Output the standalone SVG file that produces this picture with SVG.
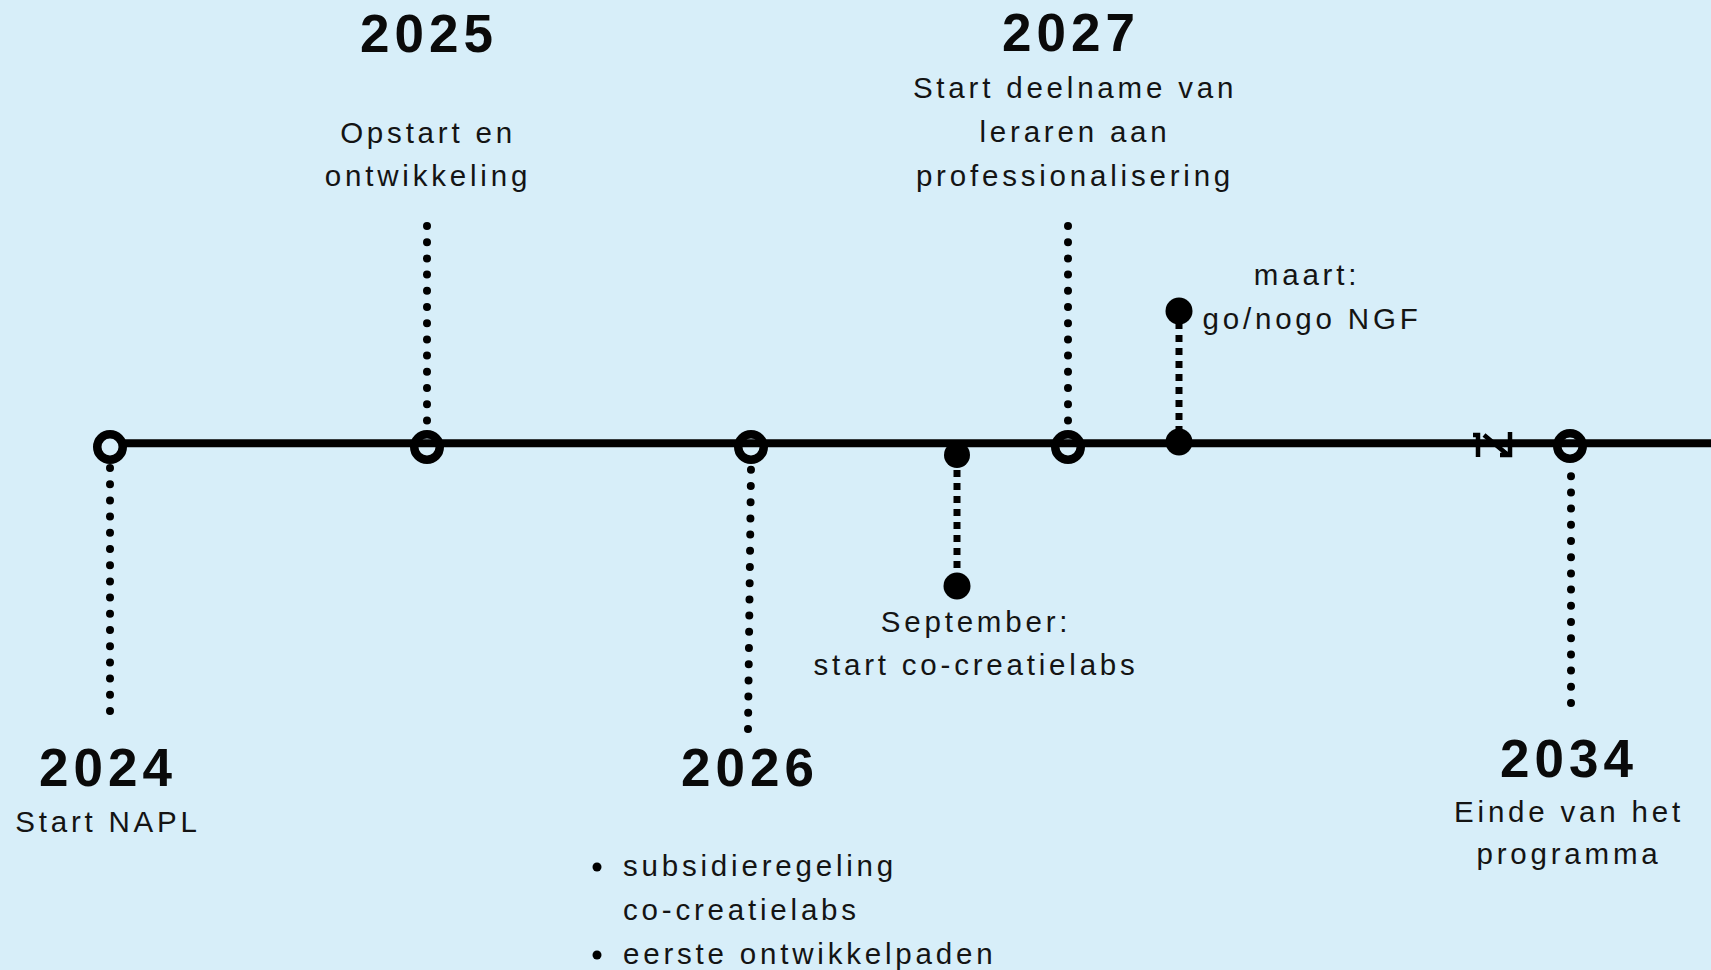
<svg xmlns="http://www.w3.org/2000/svg" width="1711" height="970" viewBox="0 0 1711 970">
<style>
.year{font-family:"Liberation Sans",Arial,sans-serif;font-weight:bold;font-size:53px;letter-spacing:5px;fill:#0a0a0a;text-anchor:middle}
.lbl{font-family:"Liberation Sans",Arial,sans-serif;font-size:29.5px;letter-spacing:3.8px;fill:#141414;text-anchor:middle}
.lft{text-anchor:start}
.dots{stroke:#000;stroke-width:8;stroke-linecap:round;stroke-dasharray:0 16.2;fill:none}
.sq{stroke:#000;stroke-width:7;stroke-dasharray:7 6;fill:none}
.ring{fill:#d7eef9;stroke:#000;stroke-width:8.5}
.dot{fill:#000}
</style>
<rect width="1711" height="970" fill="#d7eef9"/>
<g id="connectors">
  <line class="dots" x1="110" y1="711" x2="110" y2="467"/>
  <line class="dots" x1="427" y1="226" x2="427" y2="430"/>
  <line class="dots" x1="748" y1="729" x2="751" y2="467"/>
  <line class="sq" x1="957" y1="470" x2="957" y2="575"/>
  <line class="dots" x1="1068" y1="226" x2="1068" y2="430"/>
  <line class="sq" x1="1179" y1="322" x2="1179" y2="432"/>
  <line class="dots" x1="1571" y1="703" x2="1571" y2="467"/>
</g>
<g id="n2024">
  <circle class="ring" cx="110" cy="447" r="12.75"/>
  <text class="year" x="108" y="786">2024</text>
  <text class="lbl" x="108" y="832">Start NAPL</text>
</g>
<g id="n2025">
  <circle class="ring" cx="427" cy="447" r="12.75"/>
  <text class="year" x="429" y="52">2025</text>
  <text class="lbl" x="428" y="143">Opstart en</text>
  <text class="lbl" x="428" y="186">ontwikkeling</text>
</g>
<g id="n2026">
  <circle class="ring" cx="751" cy="447" r="12.75"/>
  <text class="year" x="750" y="786">2026</text>
  <circle class="dot" cx="597" cy="867" r="4.5"/>
  <text class="lbl lft" x="623" y="876">subsidieregeling</text>
  <text class="lbl lft" x="623" y="920">co-creatielabs</text>
  <circle class="dot" cx="597" cy="955" r="4.5"/>
  <text class="lbl lft" x="623" y="964">eerste ontwikkelpaden</text>
</g>
<g id="nSeptember">
  <circle class="dot" cx="957" cy="455" r="13"/>
  <circle class="dot" cx="957" cy="586" r="13.5"/>
  <text class="lbl" x="976" y="632">September:</text>
  <text class="lbl" x="976" y="675">start co-creatielabs</text>
</g>
<g id="n2027">
  <circle class="ring" cx="1068" cy="447" r="12.75"/>
  <text class="year" x="1071" y="51">2027</text>
  <text class="lbl" x="1075" y="98">Start deelname van</text>
  <text class="lbl" x="1075" y="142">leraren aan</text>
  <text class="lbl" x="1075" y="186">professionalisering</text>
</g>
<g id="nMaart">
  <circle class="dot" cx="1179" cy="311" r="13.5"/>
  <circle class="dot" cx="1179" cy="442" r="13.5"/>
  <text class="lbl" x="1307" y="285">maart:</text>
  <text class="lbl" x="1312" y="329">go/nogo NGF</text>
</g>
<g id="n2034">
  <circle class="ring" cx="1570" cy="446" r="12.75"/>
  <text class="year" x="1569" y="777">2034</text>
  <text class="lbl" x="1569" y="822">Einde van het</text>
  <text class="lbl" x="1569" y="864">programma</text>
</g>
<g id="timeline">
  <line x1="124" y1="443.3" x2="1711" y2="443.3" stroke="#000" stroke-width="8"/>
  <path d="M1473 435 H1478 V457 M1484 435 L1508 455 M1500 455 H1510 V432" fill="none" stroke="#000" stroke-width="4.5"/>
</g>
</svg>
